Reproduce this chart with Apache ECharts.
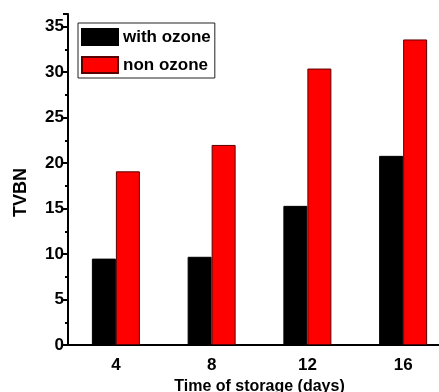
<!DOCTYPE html>
<html>
<head>
<meta charset="utf-8">
<script src="https://cdn.jsdelivr.net/npm/echarts@6/dist/echarts.min.js"></script>
<style>
  html, body { margin: 0; padding: 0; background: #fff; }
  #chart { width: 439px; height: 392px; }
</style>
</head>
<body>
<div id="chart"></div>
<script>
// Storage time (days) on the category axis
const days = ['4', '8', '12', '16'];
// TVBN readings for each treatment
const withOzone = [9.5, 9.7, 15.3, 20.8];
const nonOzone = [19.1, 22.0, 30.4, 33.6];
// Value axis ticks
const yTickStep = 5;

const font = 'Liberation Sans, Arial, sans-serif';

const chart = echarts.init(document.getElementById('chart'), null, { renderer: 'canvas' });

chart.setOption({
  backgroundColor: '#fff',
  animation: false,
  grid: { left: 68, right: -12, top: 14, bottom: 47, containLabel: false, outerBoundsMode: 'none' },
  legend: {
    left: 78,
    top: 23,
    orient: 'vertical',
    icon: 'rect',
    itemWidth: 36,
    itemHeight: 16,
    itemGap: 10,
    padding: [5, 4, 4, 3],
    borderColor: '#222',
    borderWidth: 1,
    backgroundColor: '#fff',
    textStyle: { fontFamily: font, fontWeight: 'bold', fontSize: 17, color: '#000', lineHeight: 16 },
    data: ['with ozone', 'non ozone']
  },
  xAxis: {
    type: 'category',
    data: days,
    name: 'Time of storage (days)',
    nameLocation: 'middle',
    nameGap: 28,
    nameTextStyle: { fontFamily: font, fontWeight: 'bold', fontSize: 16, color: '#000' },
    axisLine: { lineStyle: { color: '#000', width: 2 } },
    axisTick: { alignWithLabel: true, length: 6, lineStyle: { color: '#000', width: 2 } },
    axisLabel: { fontFamily: font, fontWeight: 'bold', fontSize: 17, color: '#000', margin: 12 },
    splitLine: { show: false }
  },
  yAxis: {
    type: 'value',
    min: 0,
    max: 36.4,
    interval: yTickStep,
    name: 'TVBN',
    nameLocation: 'middle',
    nameGap: 38,
    nameTextStyle: { fontFamily: font, fontWeight: 'bold', fontSize: 18, color: '#000', padding: [0, 26, 0, 0] },
    axisLine: { show: true, lineStyle: { color: '#000', width: 2 } },
    axisTick: { show: true, length: 5, lineStyle: { color: '#000', width: 2 } },
    minorTick: { show: true, splitNumber: 2, length: 3, lineStyle: { color: '#000', width: 2 } },
    axisLabel: { fontFamily: font, fontWeight: 'bold', fontSize: 17, color: '#000', margin: 4, showMaxLabel: false },
    splitLine: { show: false }
  },
  series: [
    {
      name: 'with ozone',
      type: 'bar',
      data: withOzone,
      barWidth: 24,
      barGap: '0%',
      itemStyle: { color: '#000', borderColor: '#000', borderWidth: 1 }
    },
    {
      name: 'non ozone',
      type: 'bar',
      data: nonOzone,
      barWidth: 24,
      barGap: '0%',
      itemStyle: { color: '#ff0000', borderColor: '#5a0000', borderWidth: 1 }
    }
  ]
});
</script>
</body>
</html>
